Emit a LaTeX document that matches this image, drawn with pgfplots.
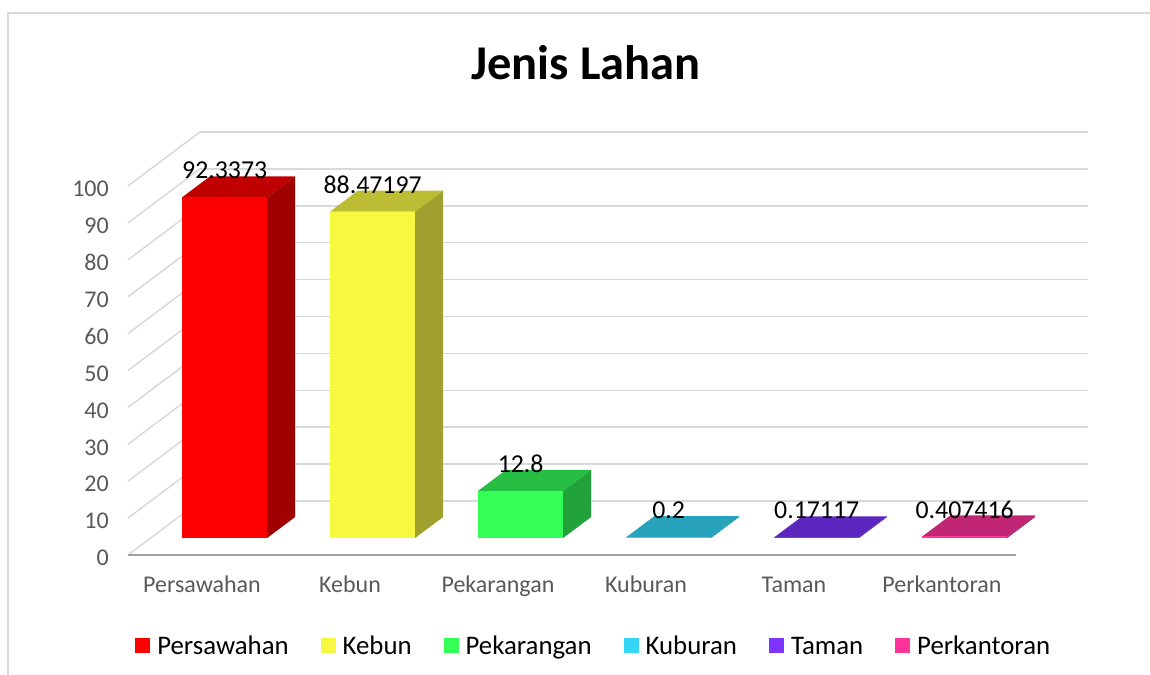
\documentclass[border=0pt]{standalone}
\usepackage{fontspec}
\setmainfont{Carlito}
\usepackage{pgfplots}
\pgfplotsset{compat=1.18}
\usetikzlibrary{calc}

\definecolor{gridc}{HTML}{D9D9D9}
\definecolor{floorc}{HTML}{A0A0A0}
\definecolor{labc}{HTML}{595959}
\definecolor{framec}{HTML}{D9D9D9}
\definecolor{rF}{HTML}{FF0000}\definecolor{rS}{HTML}{A00000}\definecolor{rT}{HTML}{C00000}
\definecolor{yF}{HTML}{F8F840}\definecolor{yS}{HTML}{A0A02E}\definecolor{yT}{HTML}{BDBD35}
\definecolor{gF}{HTML}{33FF57}\definecolor{gS}{HTML}{21A23A}\definecolor{gT}{HTML}{27BF43}
\definecolor{cF}{HTML}{33D6F5}\definecolor{cS}{HTML}{21899D}\definecolor{cT}{HTML}{27A3BC}
\definecolor{pF}{HTML}{7F33FF}\definecolor{pS}{HTML}{5221A3}\definecolor{pT}{HTML}{5C26BF}
\definecolor{kF}{HTML}{FF3399}\definecolor{kS}{HTML}{A32163}\definecolor{kT}{HTML}{C02673}

% #1 left x, #2 right x, #3 value, #4 front, #5 side, #6 top
\newcommand{\drawbar}[6]{%
 \addplot3[fill=#5,draw=none,forget plot] coordinates {(#2,0.315,0) (#2,0.704,0) (#2,0.704,#3) (#2,0.315,#3)} -- cycle;
 \addplot3[fill=#6,draw=none,forget plot] coordinates {(#1,0.315,#3) (#2,0.315,#3) (#2,0.704,#3) (#1,0.704,#3)} -- cycle;
 \addplot3[fill=#4,draw=none,forget plot] coordinates {(#1,0.315,0) (#2,0.315,0) (#2,0.315,#3) (#1,0.315,#3)} -- cycle;
}

\begin{document}
\begin{tikzpicture}
\begin{axis}[
 x={(148pt,0pt)}, y={(72pt,54pt)}, z={(0pt,3.69pt)},
 xmin=-0.5, xmax=5.5, ymin=0, ymax=1, zmin=0, zmax=100,
 clip=false,
 axis line style={draw=none},
 major tick length=0pt,
 xtick={0,1,2,3,4,5},
 xticklabels={Persawahan,Kebun,Pekarangan,Kuburan,Taman,Perkantoran},
 ytick=\empty,
 ztick={0,10,...,100},
 zmajorgrids=true, xmajorgrids=false, ymajorgrids=false,
 major grid style={draw=gridc, line width=1.5pt},
 /pgf/number format/assume math mode=true,
 ticklabel style={font=\fontsize{24}{28}\selectfont, text=labc},
 zticklabel style={anchor=east, inner sep=0pt, xshift=-19pt, yshift=-3pt},
 xticklabel style={anchor=base, inner sep=0pt, yshift=-37pt},
 legend columns=6,
 legend image code/.code={\fill[#1] (0pt,-7.5pt) rectangle (15pt,7.5pt);},
 legend style={draw=none, fill=none, at={(axis cs:2.64,0,-24.66)}, anchor=center,
   font=\fontsize{26.8}{30}\selectfont, inner sep=0pt,
   nodes={inner sep=0pt, text height=19.7pt, text depth=2.6pt},
   /tikz/every odd column/.append style={column sep=7pt},
   /tikz/every even column/.append style={column sep=32pt}},
]
\drawbar{-0.287}{0.287}{92.3373}{rF}{rS}{rT}
\drawbar{0.713}{1.287}{88.47197}{yF}{yS}{yT}
\drawbar{1.713}{2.287}{12.8}{gF}{gS}{gT}
\drawbar{2.713}{3.287}{0.2}{cF}{cS}{cT}
\drawbar{3.713}{4.287}{0.17117}{pF}{pS}{pT}
\drawbar{4.713}{5.287}{0.407416}{kF}{kS}{kT}

\addplot3[draw=none, mark=none, forget plot, nodes near coords, point meta=explicit symbolic,
  every node near coord/.append style={font=\fontsize{25.8}{30}\selectfont, text=black, inner sep=0pt, yshift=18pt}]
  coordinates {(0,0.315,92.3373) [92.3373] (1,0.315,88.47197) [88.47197] (2,0.315,12.8) [12.8]
               (3,0.315,0.2) [0.2] (4,0.315,0.17117) [0.17117] (5,0.315,0.407416) [0.407416]};

\draw[floorc, line width=1.8pt] (axis cs:-0.5,0,0) -- (axis cs:5.5,0,0);

\addlegendimage{fill=rF,draw=none}\addlegendentry{Persawahan}
\addlegendimage{fill=yF,draw=none}\addlegendentry{Kebun}
\addlegendimage{fill=gF,draw=none}\addlegendentry{Pekarangan}
\addlegendimage{fill=cF,draw=none}\addlegendentry{Kuburan}
\addlegendimage{fill=pF,draw=none}\addlegendentry{Taman}
\addlegendimage{fill=kF,draw=none}\addlegendentry{Perkantoran}

\node[font=\fontsize{48.5}{58}\selectfont\bfseries, anchor=base] at (axis cs:2.595,0,128.73) {Jenis Lahan};
\coordinate (O) at (axis cs:-0.5,0,0);
\end{axis}
\pgfresetboundingbox
\path[use as bounding box] ($(O)+(-128pt,-119pt)$) rectangle ($(O)+(1022pt,555pt)$);
\draw[framec, line width=1.2pt] ($(O)+(-120pt,-160pt)$) rectangle ($(O)+(1060pt,542pt)$);
\end{tikzpicture}
\end{document}
